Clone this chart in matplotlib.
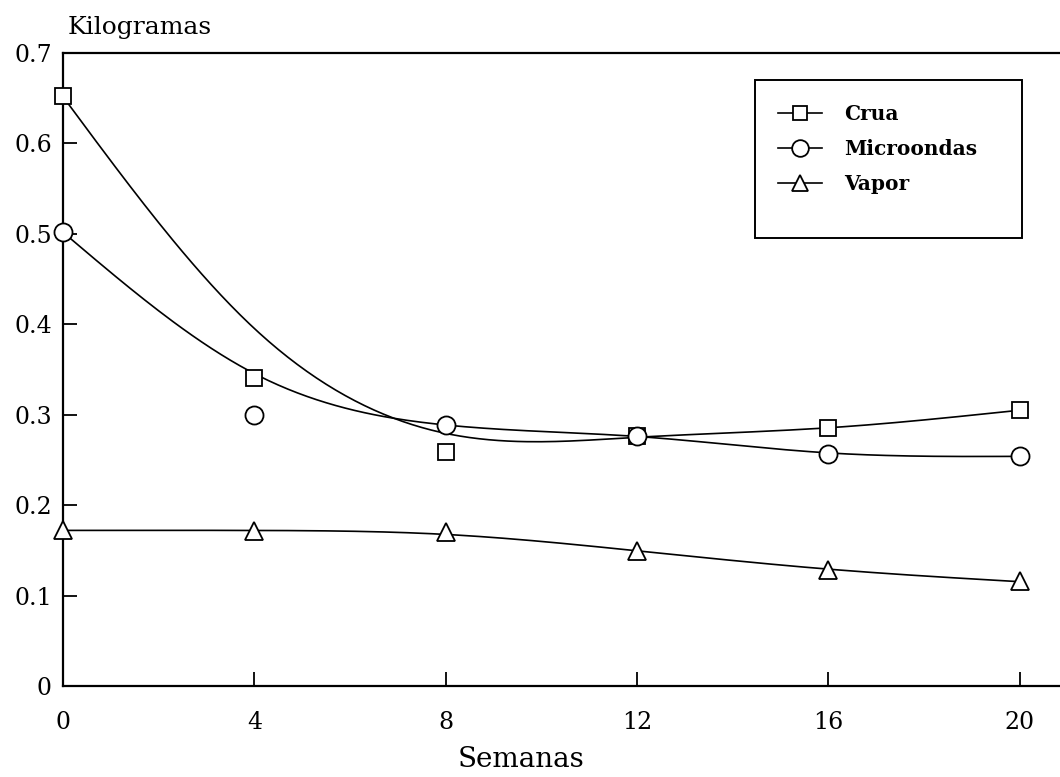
import matplotlib.pyplot as plt
from matplotlib.patches import Rectangle
import numpy as np

semanas = [0, 4, 8, 12, 16, 20]
crua = [0.652, 0.341, 0.259, 0.277, 0.285, 0.305]
microondas = [0.502, 0.300, 0.289, 0.277, 0.257, 0.254]
vapor = [0.172, 0.171, 0.170, 0.149, 0.128, 0.116]

# nome, valores, marcador, tamanho, suavizacao, pesos do ajuste
series = [('Crua', crua, 's', 11, 15, [100, 1, 1, 20, 20, 100]),
          ('Microondas', microondas, 'o', 13, 12, [100, 1, 20, 20, 20, 100]),
          ('Vapor', vapor, '^', 13, 4, [1, 1, 1, 1, 1, 1])]


def suaviza(x, y, lam, pesos, passo=0.1):
    # curva suavizada (penalidade na segunda diferenca) sobre uma grade fina
    xg = np.arange(0, max(x) + passo / 2, passo)
    n = len(xg)
    w = np.zeros(n)
    yy = np.zeros(n)
    for xi, yi, pi in zip(x, y, pesos):
        j = int(round(xi / passo))
        w[j] = pi
        yy[j] = yi
    D = np.diff(np.eye(n), 2, axis=0)
    A = np.diag(w) + lam / passo ** 3 * D.T @ D
    return xg, np.linalg.solve(A, w * yy)


plt.rcParams['font.family'] = ['DejaVu Serif']

fig = plt.figure(figsize=(10.6, 7.77), dpi=100)
ax = fig.add_axes([0.0594, 0.117, 0.9406, 0.815])

handles = []
for nome, valores, marcador, tam, lam, pesos in series:
    xg, yg = suaviza(semanas, valores, lam, pesos)
    ax.plot(xg, yg, color='black', lw=1.2)
    ax.plot(semanas, valores, linestyle='none', marker=marcador, markersize=tam,
            markerfacecolor='white', markeredgecolor='black', markeredgewidth=1.3,
            clip_on=False, zorder=5)
    h, = ax.plot([], [], color='black', lw=1.2, marker=marcador, markersize=tam - 1,
                 markerfacecolor='white', markeredgecolor='black', markeredgewidth=1.3,
                 label=nome)
    handles.append(h)

ax.set_xlim(0, 20.84)
ax.set_ylim(0, 0.7)
ax.set_xticks(semanas)
ax.set_yticks([0, 0.1, 0.2, 0.3, 0.4, 0.5, 0.6, 0.7])
ax.set_yticklabels(['0', '0.1', '0.2', '0.3', '0.4', '0.5', '0.6', '0.7'])
ax.tick_params(direction='in', length=10, width=1.3, labelsize=17, pad=8)
ax.tick_params(axis='x', pad=18)
ax.spines['right'].set_visible(False)
for s in ['left', 'top', 'bottom']:
    ax.spines[s].set_linewidth(1.6)

fig.text(0.4915, 0.022, 'Semanas', fontsize=20, ha='center', va='center')
fig.text(0.064, 0.965, 'Kilogramas', fontsize=18, ha='left', va='center')

# caixa da legenda
fig.patches.append(Rectangle((0.7123, 0.6937), 0.2519, 0.2033, transform=fig.transFigure,
                             fill=False, edgecolor='black', linewidth=1.4))
leg = fig.legend(handles=handles, loc='upper left', bbox_to_anchor=(0.734, 0.866),
                 frameon=False, handlelength=2.2, borderpad=0, labelspacing=0.75,
                 handletextpad=1.1, borderaxespad=0,
                 prop={'family': 'DejaVu Serif', 'weight': 'bold', 'size': 14.5})

fig.savefig('out.png')
